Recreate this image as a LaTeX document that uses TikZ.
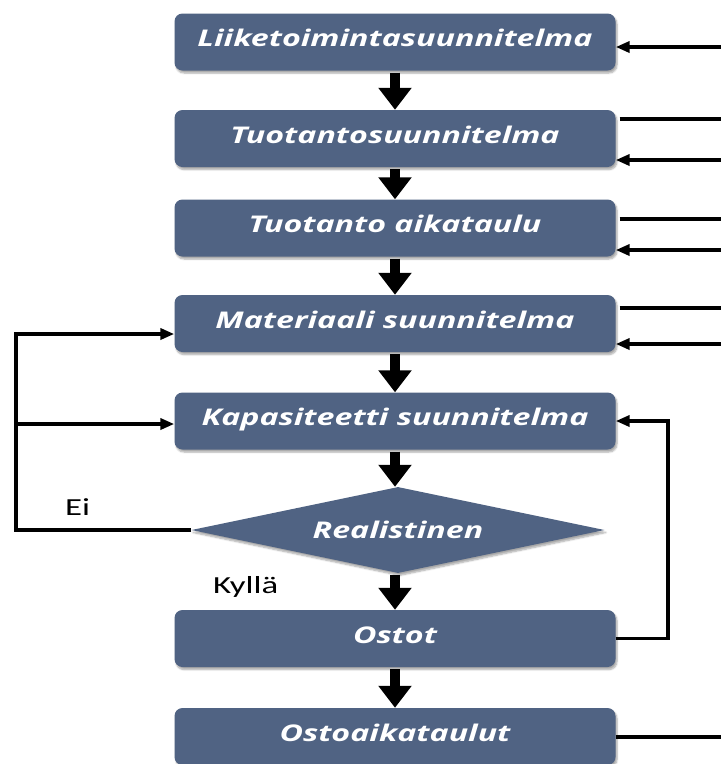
\documentclass[tikz,border=0pt]{standalone}
\usepackage{fontspec}
\usetikzlibrary{arrows.meta,shapes.geometric,shadows.blur}
\newfontfamily\boxfont[FakeStretch=1.40]{Open Sans}
\newfontfamily\labelfont[FakeStretch=1.42]{Carlito}
\definecolor{stageblue}{RGB}{80,99,131}

\begin{document}
\begin{tikzpicture}[x=1pt,y=-1pt,
  stagebox/.style={fill=stageblue, rounded corners=8pt,
    minimum width=441pt, minimum height=57pt, inner sep=0pt,
    text=white, font=\boxfont\bfseries\itshape\fontsize{23}{28}\selectfont,
    text height=14pt, text depth=5pt,
    blur shadow={shadow xshift=1.5pt, shadow yshift=-2.5pt,
      shadow blur steps=6, shadow opacity=35}},
  decision/.style={diamond, fill=stageblue, aspect=4.8,
    minimum width=413pt, minimum height=86pt, inner sep=0pt,
    text=white, font=\boxfont\bfseries\itshape\fontsize{23}{28}\selectfont,
    text height=16pt, text depth=0pt,
    blur shadow={shadow xshift=1.5pt, shadow yshift=-2.5pt,
      shadow blur steps=6, shadow opacity=35}},
  flow/.style={line width=10pt, shorten <=2pt,
    -{Triangle[length=22pt,width=32pt]}},
  feed/.style={line width=3.5pt, -{Triangle[length=14pt,width=11pt]}},
  plainline/.style={line width=3.5pt},
  answer/.style={font=\labelfont\fontsize{24.5}{28}\selectfont,
    inner sep=0pt, anchor=base west}
]
\useasboundingbox (0,0) rectangle (721,764);

% planning stages
\node[stagebox] (b1) at (395,42)    {Liiketoimintasuunnitelma};
\node[stagebox] (b2) at (395,138.5) {Tuotantosuunnitelma};
\node[stagebox] (b3) at (395,228)   {Tuotanto aikataulu};
\node[stagebox] (b4) at (395,323.5) {Materiaali suunnitelma};
\node[stagebox] (b5) at (395,421)   {Kapasiteetti suunnitelma};
\node[decision] (d)  at (398,530)   {Realistinen};
\node[stagebox] (b6) at (395,638.5) {Ostot};
\node[stagebox] (b7) at (395,736.5) {Ostoaikataulut};

% main flow
\draw[flow] (b1.south) -- (b2.north);
\draw[flow] (b2.south) -- (b3.north);
\draw[flow] (b3.south) -- (b4.north);
\draw[flow] (b4.south) -- (b5.north);
\draw[flow] (b5.south) -- (b5.south |- d.north);
\draw[flow] (b6.north |- d.south) -- (b6.north);
\draw[flow] (b6.south) -- (b7.north);

% links to the right edge
\coordinate (e1) at (725,47);
\coordinate (e2) at (725,119);
\coordinate (e3) at (725,160);
\coordinate (e4) at (725,219);
\coordinate (e5) at (725,250);
\coordinate (e6) at (725,308);
\coordinate (e7) at (725,344);
\coordinate (e8) at (725,737);
\draw[feed] (e1) -- (b1.east |- e1);
\draw[plainline, shorten <=4pt] (b2.east |- e2) -- (e2);
\draw[feed] (e3) -- (b2.east |- e3);
\draw[plainline, shorten <=4pt] (b3.east |- e4) -- (e4);
\draw[feed] (e5) -- (b3.east |- e5);
\draw[plainline, shorten <=4pt] (b4.east |- e6) -- (e6);
\draw[feed] (e7) -- (b4.east |- e7);
\draw[plainline] (b7.east |- e8) -- (e8);

% "no" branch back to the material and capacity plans
\coordinate (w1) at (16,334);
\coordinate (w2) at (16,424);
\draw[feed] (d.west) -| (w1) -- (b4.west |- w1);
\draw[feed] (w2) -- (b5.west |- w2);

% purchases feed back to capacity planning
\coordinate (loop) at (668,421);
\draw[feed] (b6.east) -| (loop) -- (b5.east);

% branch labels
\node[answer] (ei) at (65,515) {Ei};
\node[answer] (kylla) at (213,593) {Kyllä};
\end{tikzpicture}
\end{document}
